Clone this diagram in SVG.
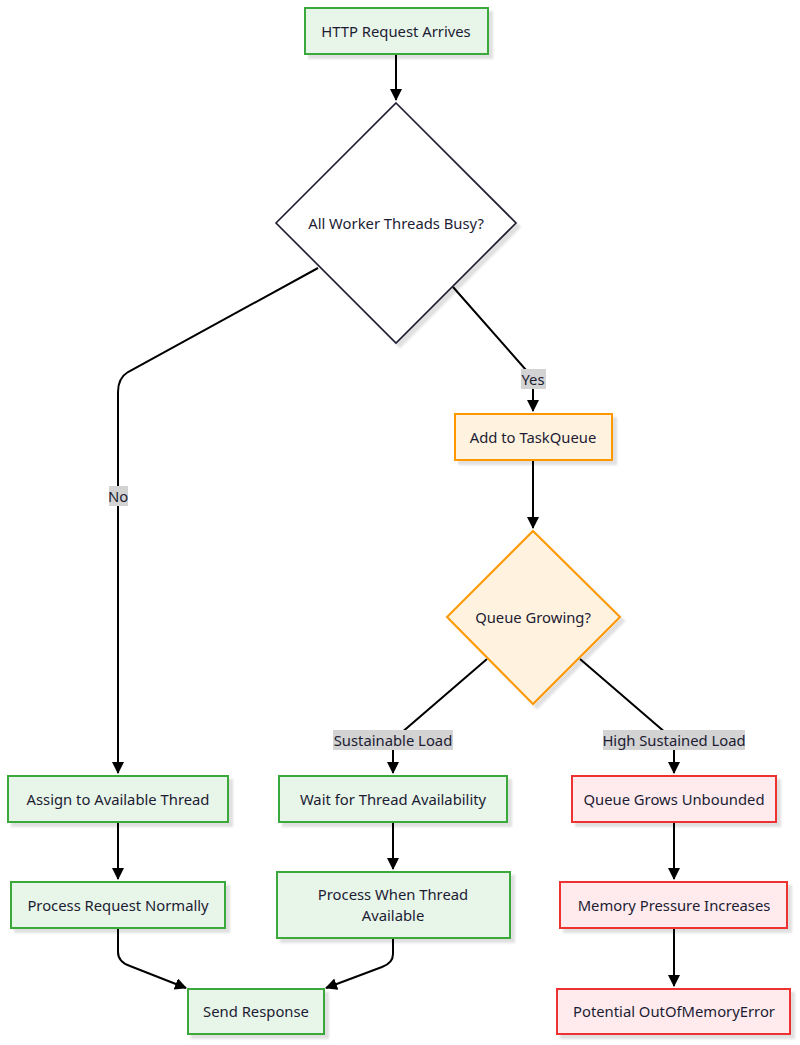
<svg xmlns="http://www.w3.org/2000/svg" width="800" height="1045" viewBox="0 0 800 1045">
<defs>
<marker id="arr" viewBox="0 0 12 12" refX="11" refY="6" markerWidth="12" markerHeight="12" markerUnits="userSpaceOnUse" orient="auto">
<path d="M0,0 L12,6 L0,12 z" fill="#000"/>
</marker>
<filter id="sh" x="-20%" y="-20%" width="150%" height="150%">
<feDropShadow dx="4" dy="4" stdDeviation="1" flood-color="#000" flood-opacity="0.12"/>
</filter>
<style>
text{font-family:"Noto Sans","Open Sans","Liberation Sans",sans-serif;font-size:14.8px;fill:#1c1c33;text-anchor:middle;dominant-baseline:central}
.g{fill:#e8f5e9;stroke:#3aa83a;stroke-width:2}
.o{fill:#fff2df;stroke:#ff9800;stroke-width:2}
.r{fill:#ffebee;stroke:#ee3030;stroke-width:2}
.d{fill:#fff;stroke:#1c1c33;stroke-width:1.6}
.e{fill:none;stroke:#000;stroke-width:2;marker-end:url(#arr)}
.lb{fill:#d3d3d3}
</style>
</defs>
<g id="edges">
<path class="e" d="M396,54 L396,100"/>
<path class="e" d="M318,268 L128,372 Q118,378 118,392 L118,773"/>
<path class="e" d="M453,287 L533,378 L533,411"/>
<path class="e" d="M533,460 L533,528"/>
<path class="e" d="M487,659 L393,740 L393,773"/>
<path class="e" d="M580,659 L674,740 L674,773"/>
<path class="e" d="M118,822 L118,879"/>
<path class="e" d="M393,822 L393,869"/>
<path class="e" d="M674,822 L674,879"/>
<path class="e" d="M674,928 L674,986"/>
<path class="e" d="M118,928 L118,952 Q118,962 130,966 L186,988"/>
<path class="e" d="M393,938 L393,954 Q393,963 382,967 L326,988"/>
<rect class="lb" x="521" y="369" width="25" height="20"/><text x="533" y="379">Yes</text>
<rect class="lb" x="109" y="486" width="19" height="20"/><text x="118" y="496">No</text>
<rect class="lb" x="333" y="730" width="120" height="20"/><text x="393" y="740">Sustainable Load</text>
<rect class="lb" x="603" y="730" width="142" height="20"/><text x="674" y="740">High Sustained Load</text>
</g>
<g id="n1"><rect class="g" filter="url(#sh)" x="305" y="8" width="183" height="46"/><text x="396" y="31">HTTP Request Arrives</text></g>
<g id="n2"><polygon class="d" filter="url(#sh)" points="396,103 516,223 396,343 276,223"/><text x="396" y="223">All Worker Threads Busy?</text></g>
<g id="n3"><rect class="o" filter="url(#sh)" x="455" y="414" width="157" height="46"/><text x="533" y="437">Add to TaskQueue</text></g>
<g id="n4"><polygon class="o" filter="url(#sh)" points="533,531 620,617 533,704 447,617"/><text x="533" y="617">Queue Growing?</text></g>
<g id="n5"><rect class="g" filter="url(#sh)" x="8" y="776" width="220" height="46"/><text x="118" y="799">Assign to Available Thread</text></g>
<g id="n6"><rect class="g" filter="url(#sh)" x="279" y="776" width="228" height="46"/><text x="393" y="799">Wait for Thread Availability</text></g>
<g id="n7"><rect class="r" filter="url(#sh)" x="572" y="776" width="204" height="46"/><text x="674" y="799">Queue Grows Unbounded</text></g>
<g id="n8"><rect class="g" filter="url(#sh)" x="11" y="882" width="214" height="46"/><text x="118" y="905">Process Request Normally</text></g>
<g id="n9"><rect class="g" filter="url(#sh)" x="277" y="872" width="233" height="66"/><text x="393" y="894">Process When Thread</text><text x="393" y="915">Available</text></g>
<g id="n10"><rect class="r" filter="url(#sh)" x="560" y="882" width="227" height="46"/><text x="674" y="905">Memory Pressure Increases</text></g>
<g id="n11"><rect class="g" filter="url(#sh)" x="188" y="989" width="136" height="45"/><text x="256" y="1011">Send Response</text></g>
<g id="n12"><rect class="r" filter="url(#sh)" x="557" y="989" width="233" height="45"/><text x="674" y="1011">Potential OutOfMemoryError</text></g>
</svg>
